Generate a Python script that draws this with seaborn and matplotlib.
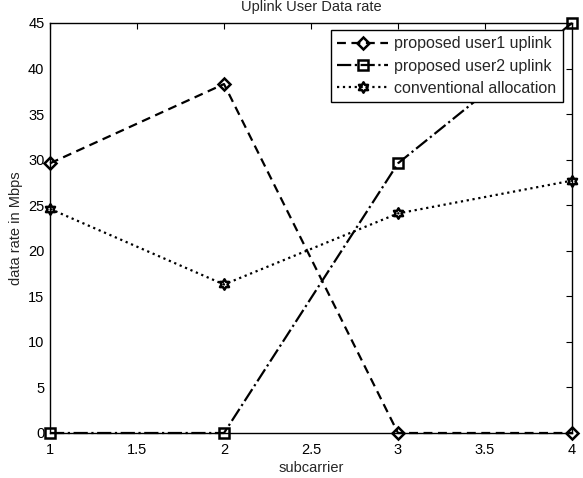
import numpy as np
import pandas as pd
import matplotlib
matplotlib.use("Agg")
import matplotlib.pyplot as plt
from matplotlib.path import Path
import seaborn as sns

subcarrier = [1, 2, 3, 4]
user1_uplink = [29.6, 38.3, 0.0, 0.0]
user2_uplink = [0.0, 0.0, 29.6, 45.0]
conventional = [24.6, 16.3, 24.1, 27.7]
series_names = ["proposed user1 uplink", "proposed user2 uplink", "conventional allocation"]
x_ticks = [1, 1.5, 2, 2.5, 3, 3.5, 4]
x_ticklabels = ["1", "1.5", "2", "2.5", "3", "3.5", "4"]
y_ticks = [0, 5, 10, 15, 20, 25, 30, 35, 40, 45]

sns.set_theme(style="white")
plt.rcParams["font.family"] = ["Liberation Sans", "DejaVu Sans"]

# hexagram marker
ang_o = np.deg2rad(np.arange(6) * 60 + 90)
ang_i = ang_o + np.deg2rad(30)
r_i = 1 / np.sqrt(3)
verts = []
for ao, ai in zip(ang_o, ang_i):
    verts.append((np.cos(ao), np.sin(ao)))
    verts.append((r_i * np.cos(ai), r_i * np.sin(ai)))
verts.append(verts[0])
codes = [Path.MOVETO] + [Path.LINETO] * 11 + [Path.CLOSEPOLY]
hexagram = Path(verts, codes)

fig = plt.figure(figsize=(5.83, 4.78), dpi=100)
ax = fig.add_axes([50 / 583, 45 / 478, 522 / 583, 410 / 478])

df = pd.DataFrame({
    "subcarrier": subcarrier * 3,
    "rate": user1_uplink + user2_uplink + conventional,
    "series": [series_names[0]] * 4 + [series_names[1]] * 4 + [series_names[2]] * 4,
})

styles = [((0, (4, 2.5)), "D", 6), ("-.", "s", 6.5), (":", hexagram, 7.5)]
for name, (ls, mk, ms) in zip(series_names, styles):
    sub = df[df["series"] == name]
    sns.lineplot(data=sub, x="subcarrier", y="rate", ax=ax, color="black",
                 linestyle=ls, linewidth=1.6, marker=mk, markersize=ms,
                 markerfacecolor="none", markeredgecolor="black",
                 markeredgewidth=1.8, label=name, clip_on=False, zorder=3)

ax.set_xlim(1, 4)
ax.set_ylim(0, 45)
ax.set_xticks(x_ticks)
ax.set_xticklabels(x_ticklabels)
ax.set_yticks(y_ticks)
ax.tick_params(direction="in", top=True, right=True, length=4, width=0.8,
               labelsize=10.5, colors="black")
ax.tick_params(axis="x", pad=7)
ax.tick_params(axis="y", pad=4)
for s in ax.spines.values():
    s.set_visible(True)
    s.set_color("black")
    s.set_linewidth(1.0)
ax.set_xlabel("subcarrier", fontsize=10.5, labelpad=3)
ax.set_ylabel("data rate in Mbps", fontsize=10.5, labelpad=4)
ax.set_title("Uplink User Data rate", fontsize=10.5, pad=9)

leg = ax.legend(loc="upper right", bbox_to_anchor=(563 / 583, 1 - 30 / 478),
                bbox_transform=fig.transFigure, borderaxespad=0, fontsize=11.5,
                fancybox=False, framealpha=1, edgecolor="black",
                handlelength=3.2, handletextpad=0.4, labelspacing=0.45,
                borderpad=0.4)
leg.get_frame().set_linewidth(1.0)

fig.savefig("out.png", dpi=100)
